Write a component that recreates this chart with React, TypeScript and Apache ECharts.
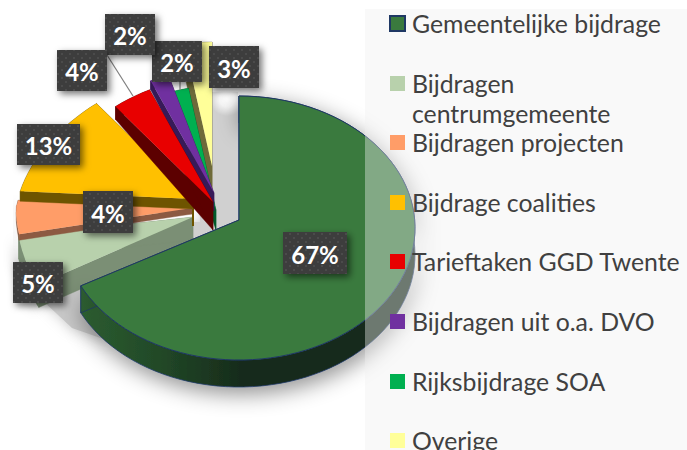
import React, { useEffect, useRef } from "react";
import * as echarts from "echarts";

// ---- data ----
const categories = [
  "Gemeentelijke bijdrage",
  "Bijdragen centrumgemeente",
  "Bijdragen projecten",
  "Bijdrage coalities",
  "Tarieftaken GGD Twente",
  "Bijdragen uit o.a. DVO",
  "Rijksbijdrage SOA",
  "Overige",
];
const values = [67, 5, 4, 13, 4, 2, 2, 3];
const legendLines = [
  ["Gemeentelijke bijdrage"],
  ["Bijdragen", "centrumgemeente"],
  ["Bijdragen projecten"],
  ["Bijdrage coalities"],
  ["Tarieftaken GGD Twente"],
  ["Bijdragen uit o.a. DVO"],
  ["Rijksbijdrage SOA"],
  ["Overige"],
];
const colors = ["#3a7a3e", "#b8d1ac", "#ff9d68", "#ffc000", "#e80000", "#7030a0", "#00b050", "#ffff99"];
const wallColors = ["#16291a", "#7b8f75", "#8c5a42", "#6e5400", "#5c0000", "#371a58", "#005a2c", "#6e6a3a"];

// ---- layout (styles and positions, kept apart from the data) ----
const FONT = "Lato, sans-serif";
const RX = 176;
// ax/ay: wedge apex; cdy: ellipse centre below apex; up/down: vertical radii; k: far-side narrowing; skew: perspective shift of the end angle
const geo = [
  { ax: 239, ay: 220, cdy: 8, up: 132, down: 132, k: 0, rim: 27, tip: 27, spine: 0, skew: 2.8 },
  { ax: 193, ay: 217, cdy: 0, up: 124, down: 140, k: 0.17, rim: 23, tip: 23, spine: 0, skew: 3 },
  { ax: 192, ay: 208, cdy: 0, up: 124, down: 140, k: 0.17, rim: 6, tip: 6, spine: 0, skew: 0 },
  { ax: 194, ay: 199, cdy: 0, up: 124, down: 140, k: 0.17, rim: 10, tip: 10, spine: 27, skew: 0 },
  { ax: 213, ay: 202, cdy: 0, up: 124, down: 140, k: 0.17, rim: 13, tip: 28, spine: 0, skew: 0 },
  { ax: 214, ay: 193, cdy: 0, up: 124, down: 140, k: 0.17, rim: 9, tip: 18, spine: 0, skew: 0 },
  { ax: 216, ay: 210, cdy: 0, up: 124, down: 140, k: 0.17, rim: 2, tip: 20, spine: 0, skew: 0 },
  { ax: 212, ay: 166, cdy: 0, up: 124, down: 140, k: 0.17, rim: 30, tip: 40, spine: 0, skew: 0 },
];
const drawOrder = [7, 6, 5, 1, 2, 3, 4, 0];
const labelBoxes = [
  [283, 232, 64, 42],
  [13, 262, 50, 41],
  [83, 191, 50, 42],
  [17, 124, 63, 41],
  [57, 50, 50, 41],
  [105, 14, 50, 41],
  [152, 41, 50, 41],
  [209, 46, 50, 42],
];
const leaders: Record<number, number[][]> = {
  4: [[107, 55], [133, 96]],
  6: [[180, 82], [180, 90]],
};
const legendY = [23.5, 83.5, 142.5, 202.5, 261.5, 321.5, 381.5, 440.5];

function dotPattern(): string {
  const c = document.createElement("canvas");
  c.width = 8;
  c.height = 8;
  const g = c.getContext("2d")!;
  g.fillStyle = "#3d3d3d";
  g.fillRect(0, 0, 8, 8);
  g.fillStyle = "#4b4b4b";
  g.fillRect(1, 1, 2, 2);
  g.fillRect(5, 5, 2, 2);
  return c.toDataURL();
}

function arcPoints(i: number, a0: number, a1: number) {
  const g = geo[i];
  const n = Math.max(4, Math.ceil((a1 - a0) / 3));
  const pts: number[][] = [];
  for (let j = 0; j <= n; j++) {
    const a = ((a0 + ((a1 - a0) * j) / n) * Math.PI) / 180;
    const py = -Math.cos(a);
    const xs = py < 0 ? 1 + g.k * py : 1;
    const ry = py < 0 ? g.up : g.down;
    pts.push([g.ax + Math.sin(a) * RX * xs, g.ay + g.cdy + py * ry]);
  }
  return pts;
}

export default function App() {
  const ref = useRef<HTMLDivElement>(null);
  useEffect(() => {
    const chart = echarts.init(ref.current!, undefined, { renderer: "svg" });
    const total = values.reduce((a, b) => a + b, 0);
    const dots = dotPattern();
    const starts: number[] = [];
    values.reduce((acc, v, i) => {
      starts[i] = acc;
      return acc + v;
    }, 0);

    const renderItem = (_p: any, api: any) => {
      const v = api.value(0) as number;
      const i = api.value(1) as number;
      const g = geo[i];
      const a0 = (starts[i] / total) * 360;
      const a1 = ((starts[i] + v) / total) * 360 + g.skew;
      const arc = arcPoints(i, a0, a1);
      const apex = [g.ax, g.ay];
      const apexLow = [g.ax, g.ay + g.tip];
      const low = (p: number[]) => [p[0], p[1] + g.rim];
      const first = arc[0];
      const last = arc[arc.length - 1];
      const wallFill: any =
        i === 0
          ? {
              type: "linear", x: 0, y: 0, x2: 1, y2: 0,
              colorStops: [
                { offset: 0, color: "#2c5c30" },
                { offset: 0.22, color: "#224a28" },
                { offset: 0.5, color: "#16291a" },
                { offset: 1, color: "#16291a" },
              ],
            }
          : wallColors[i];
      const shadow = i === 0
        ? { shadowBlur: 22, shadowColor: "rgba(0,0,0,0.45)", shadowOffsetX: 2, shadowOffsetY: 6 }
        : i === 1 || i === 2
        ? { shadowBlur: 12, shadowColor: "rgba(0,0,0,0.3)", shadowOffsetX: -3, shadowOffsetY: 3 }
        : {};
      const wall = (points: number[][], extra: any = {}) => ({
        type: "polygon",
        shape: { points },
        style: { fill: wallFill, stroke: i === 0 ? "#1f3864" : wallColors[i], lineWidth: i === 0 ? 0.8 : 0.4, ...extra },
      });
      const children: any[] = [
        wall([...arc, ...arc.map(low).reverse()], shadow),
        wall([apex, first, low(first), apexLow]),
        wall([apex, last, low(last), apexLow]),
      ];
      if (g.spine) {
        children.push({
          type: "rect",
          shape: { x: g.ax - 2, y: g.ay + g.tip, width: 2, height: g.spine - g.tip },
          style: { fill: wallColors[i] },
        });
      }
      children.push({
        type: "polygon",
        shape: { points: [apex, ...arc] },
        style: i === 0
          ? { fill: colors[i], stroke: "#1f3864", lineWidth: 1 }
          : { fill: colors[i] },
      });
      const line = leaders[i];
      if (line) {
        children.push({
          type: "line",
          z2: 40,
          shape: { x1: line[0][0], y1: line[0][1], x2: line[1][0], y2: line[1][1] },
          style: { stroke: "#7f7f7f", lineWidth: 1.2 },
        });
      }
      const b = labelBoxes[i];
      children.push({
        type: "rect",
        z2: 50,
        shape: { x: b[0], y: b[1], width: b[2], height: b[3] },
        style: {
          fill: { image: dots, repeat: "repeat" },
          shadowBlur: 7,
          shadowColor: "rgba(0,0,0,0.55)",
          shadowOffsetX: 3,
          shadowOffsetY: 3,
        },
      });
      children.push({
        type: "text",
        z2: 51,
        style: {
          x: b[0] + b[2] / 2,
          y: b[1] + b[3] / 2 + 1,
          text: `${v}%`,
          align: "center",
          verticalAlign: "middle",
          fill: "#ffffff",
          font: `bold 24px ${FONT}`,
        },
      });
      return { type: "group", children };
    };

    const legendGraphics: any[] = [];
    categories.forEach((name, i) => {
      legendGraphics.push({
        type: "rect",
        z: 110,
        shape: { x: 390, y: legendY[i] - 7.5, width: 15, height: 15 },
        style: i === 0
          ? { fill: colors[i], stroke: "#1f3864", lineWidth: 2 }
          : { fill: colors[i] },
      });
      legendLines[i].forEach((t, j) => {
        legendGraphics.push({
          type: "text",
          z: 110,
          x: 412,
          y: legendY[i] + j * 30,
          style: {
            text: t,
            fill: "#404040",
            font: `24.8px ${FONT}`,
            verticalAlign: "middle",
            align: "left",
          },
        });
      });
    });

    chart.setOption({
      animation: false,
      backgroundColor: "#ffffff",
      graphic: [
        {
          type: "polygon",
          z: 0,
          shape: {
            points: [[200, 92], [238, 92], [238, 232], [188, 252], [186, 222], [200, 222]],
          },
          style: {
            fill: "#d0d0d0",
            shadowBlur: 8,
            shadowColor: "#d0d0d0",
          },
        },
        {
          type: "circle",
          z: 0,
          shape: { cx: 227, cy: 99, r: 17 },
          style: {
            fill: {
              type: "radial", x: 0.5, y: 0.5, r: 0.5,
              colorStops: [
                { offset: 0, color: "rgba(255,255,255,1)" },
                { offset: 0.45, color: "rgba(255,255,255,0.8)" },
                { offset: 1, color: "rgba(255,255,255,0)" },
              ],
            },
          },
        },
        {
          type: "polygon",
          z: 0,
          shape: { points: [[42, 300], [84, 285], [112, 342], [72, 328]] },
          style: { fill: "#c8c8c8", shadowBlur: 14, shadowColor: "#c8c8c8" },
        },
        {
          type: "rect",
          z: 100,
          shape: { x: 365, y: 9, width: 322, height: 441 },
          style: { fill: "rgba(240,240,240,0.4)" },
        },
        ...legendGraphics,
      ],
      series: [
        {
          type: "custom",
          coordinateSystem: "none",
          z: 2,
          silent: true,
          renderItem,
          data: drawOrder.map((i) => ({ name: categories[i], value: [values[i], i] })),
        },
      ],
    });
    return () => chart.dispose();
  }, []);
  return <div ref={ref} style={{ position: "fixed", left: 0, top: 0, width: 687, height: 450 }} />;
}
